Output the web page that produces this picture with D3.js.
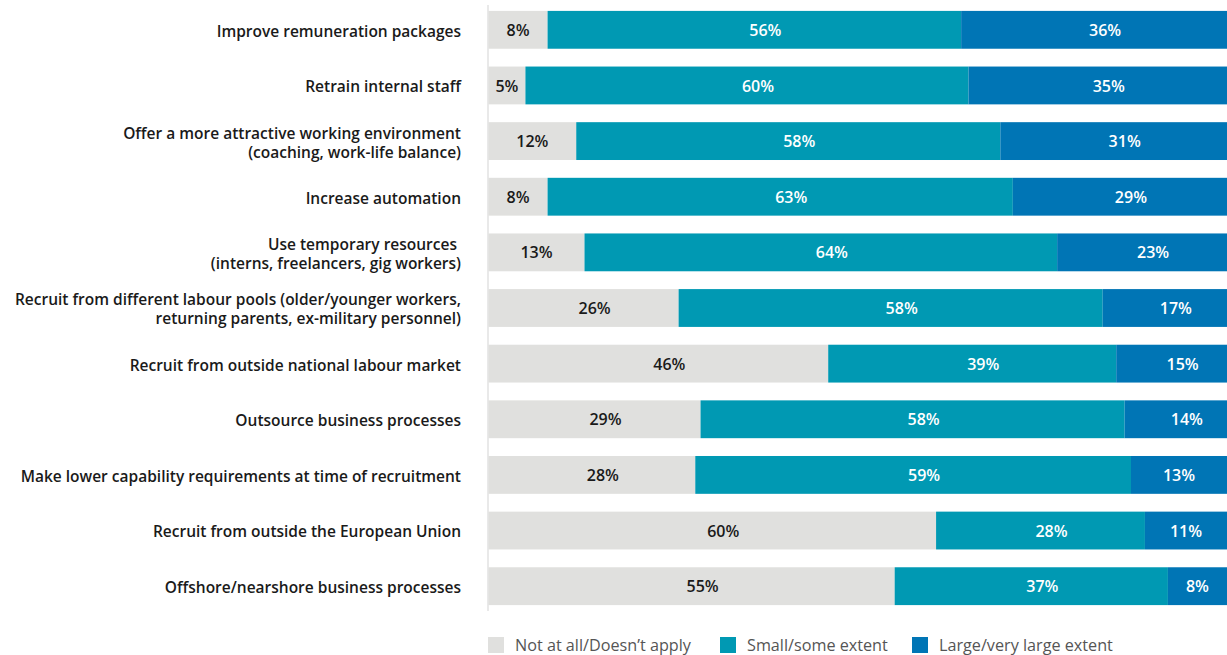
<!DOCTYPE html>
<html>
<head>
<meta charset="utf-8">
<script src="https://cdn.jsdelivr.net/npm/d3@7"></script>
<style>
  html, body { margin: 0; padding: 0; background: #fff; }
  svg { display: block; font-family: "Open Sans", sans-serif; }
</style>
</head>
<body>
<svg id="chart" width="1227" height="655"></svg>
<script>
const categories = [
  "Improve remuneration packages",
  "Retrain internal staff",
  "Offer a more attractive working environment\n(coaching, work-life balance)",
  "Increase automation",
  "Use temporary resources \n(interns, freelancers, gig workers)",
  "Recruit from different labour pools (older/younger workers,\nreturning parents, ex-military personnel)",
  "Recruit from outside national labour market",
  "Outsource business processes",
  "Make lower capability requirements at time of recruitment",
  "Recruit from outside the European Union",
  "Offshore/nearshore business processes"
];
const seriesNames = ["Not at all/Doesn\u2019t apply", "Small/some extent", "Large/very large extent"];
const notAtAll   = [8, 5, 12, 8, 13, 26, 46, 29, 28, 60, 55];
const someExtent = [56, 60, 58, 63, 64, 58, 39, 58, 59, 28, 37];
const largeExtent= [36, 35, 31, 29, 23, 17, 15, 14, 13, 11, 8];

const colors = ["#e0e0de", "#0099b3", "#0075b5"];
const labelColors = ["#1a1a1a", "#ffffff", "#ffffff"];

const rows = categories.map((c, i) => ({
  cat: c, s0: notAtAll[i], s1: someExtent[i], s2: largeExtent[i]
}));
const keys = ["s0", "s1", "s2"];
const stacked = d3.stack().keys(keys).offset(d3.stackOffsetExpand)(rows);

const svg = d3.select("#chart");
const x = d3.scaleLinear().domain([0, 1]).range([488.5, 1227]);
const y = d3.scaleBand().domain(categories).range([2, 614]).paddingInner(0.32).paddingOuter(0.16);

// axis line
svg.append("line")
  .attr("x1", 488).attr("x2", 488)
  .attr("y1", 5).attr("y2", 611)
  .attr("stroke", "#e2e2e2").attr("stroke-width", 1.5);

const groups = svg.selectAll("g.series").data(stacked).join("g")
  .attr("class", "series")
  .attr("fill", (d, i) => colors[i]);

groups.selectAll("rect").data(d => d).join("rect")
  .attr("x", d => x(d[0]))
  .attr("y", d => y(d.data.cat))
  .attr("width", d => x(d[1]) - x(d[0]))
  .attr("height", y.bandwidth());

const labelG = svg.append("g")
  .attr("font-size", 16).attr("font-weight", 600).attr("text-anchor", "middle");
stacked.forEach((s, si) => {
  labelG.selectAll(null).data(s).join("text")
    .attr("x", d => {
      const w = x(d[1]) - x(d[0]);
      return (x(d[0]) + x(d[1])) / 2 + (w > 100 ? 11 : 0);
    })
    .attr("y", d => y(d.data.cat) + y.bandwidth() / 2)
    .attr("dy", "0.38em")
    .attr("fill", labelColors[si])
    .text(d => d.data[s.key] + "%");
});

// category labels
const catG = svg.append("g")
  .attr("font-size", 15.5).attr("font-weight", 600).attr("fill", "#1a1a1a")
  .attr("text-anchor", "end");
categories.forEach(c => {
  const lines = c.split("\n");
  const cy = y(c) + y.bandwidth() / 2 + 1.5;
  const lh = 19;
  lines.forEach((ln, i) => {
    catG.append("text")
      .style("white-space", "pre")
      .attr("x", 461)
      .attr("y", cy + (i - (lines.length - 1) / 2) * lh)
      .attr("dy", "0.35em")
      .text(ln);
  });
});

// legend
const legendX = [488, 720, 912];
const lg = svg.append("g");
seriesNames.forEach((n, i) => {
  lg.append("rect").attr("x", legendX[i]).attr("y", 637).attr("width", 16).attr("height", 16).attr("fill", colors[i]);
  lg.append("text").attr("x", legendX[i] + 27).attr("y", 645).attr("dy", "0.35em")
    .attr("font-size", 16.2).attr("fill", "#555").text(n);
});
</script>
</body>
</html>
